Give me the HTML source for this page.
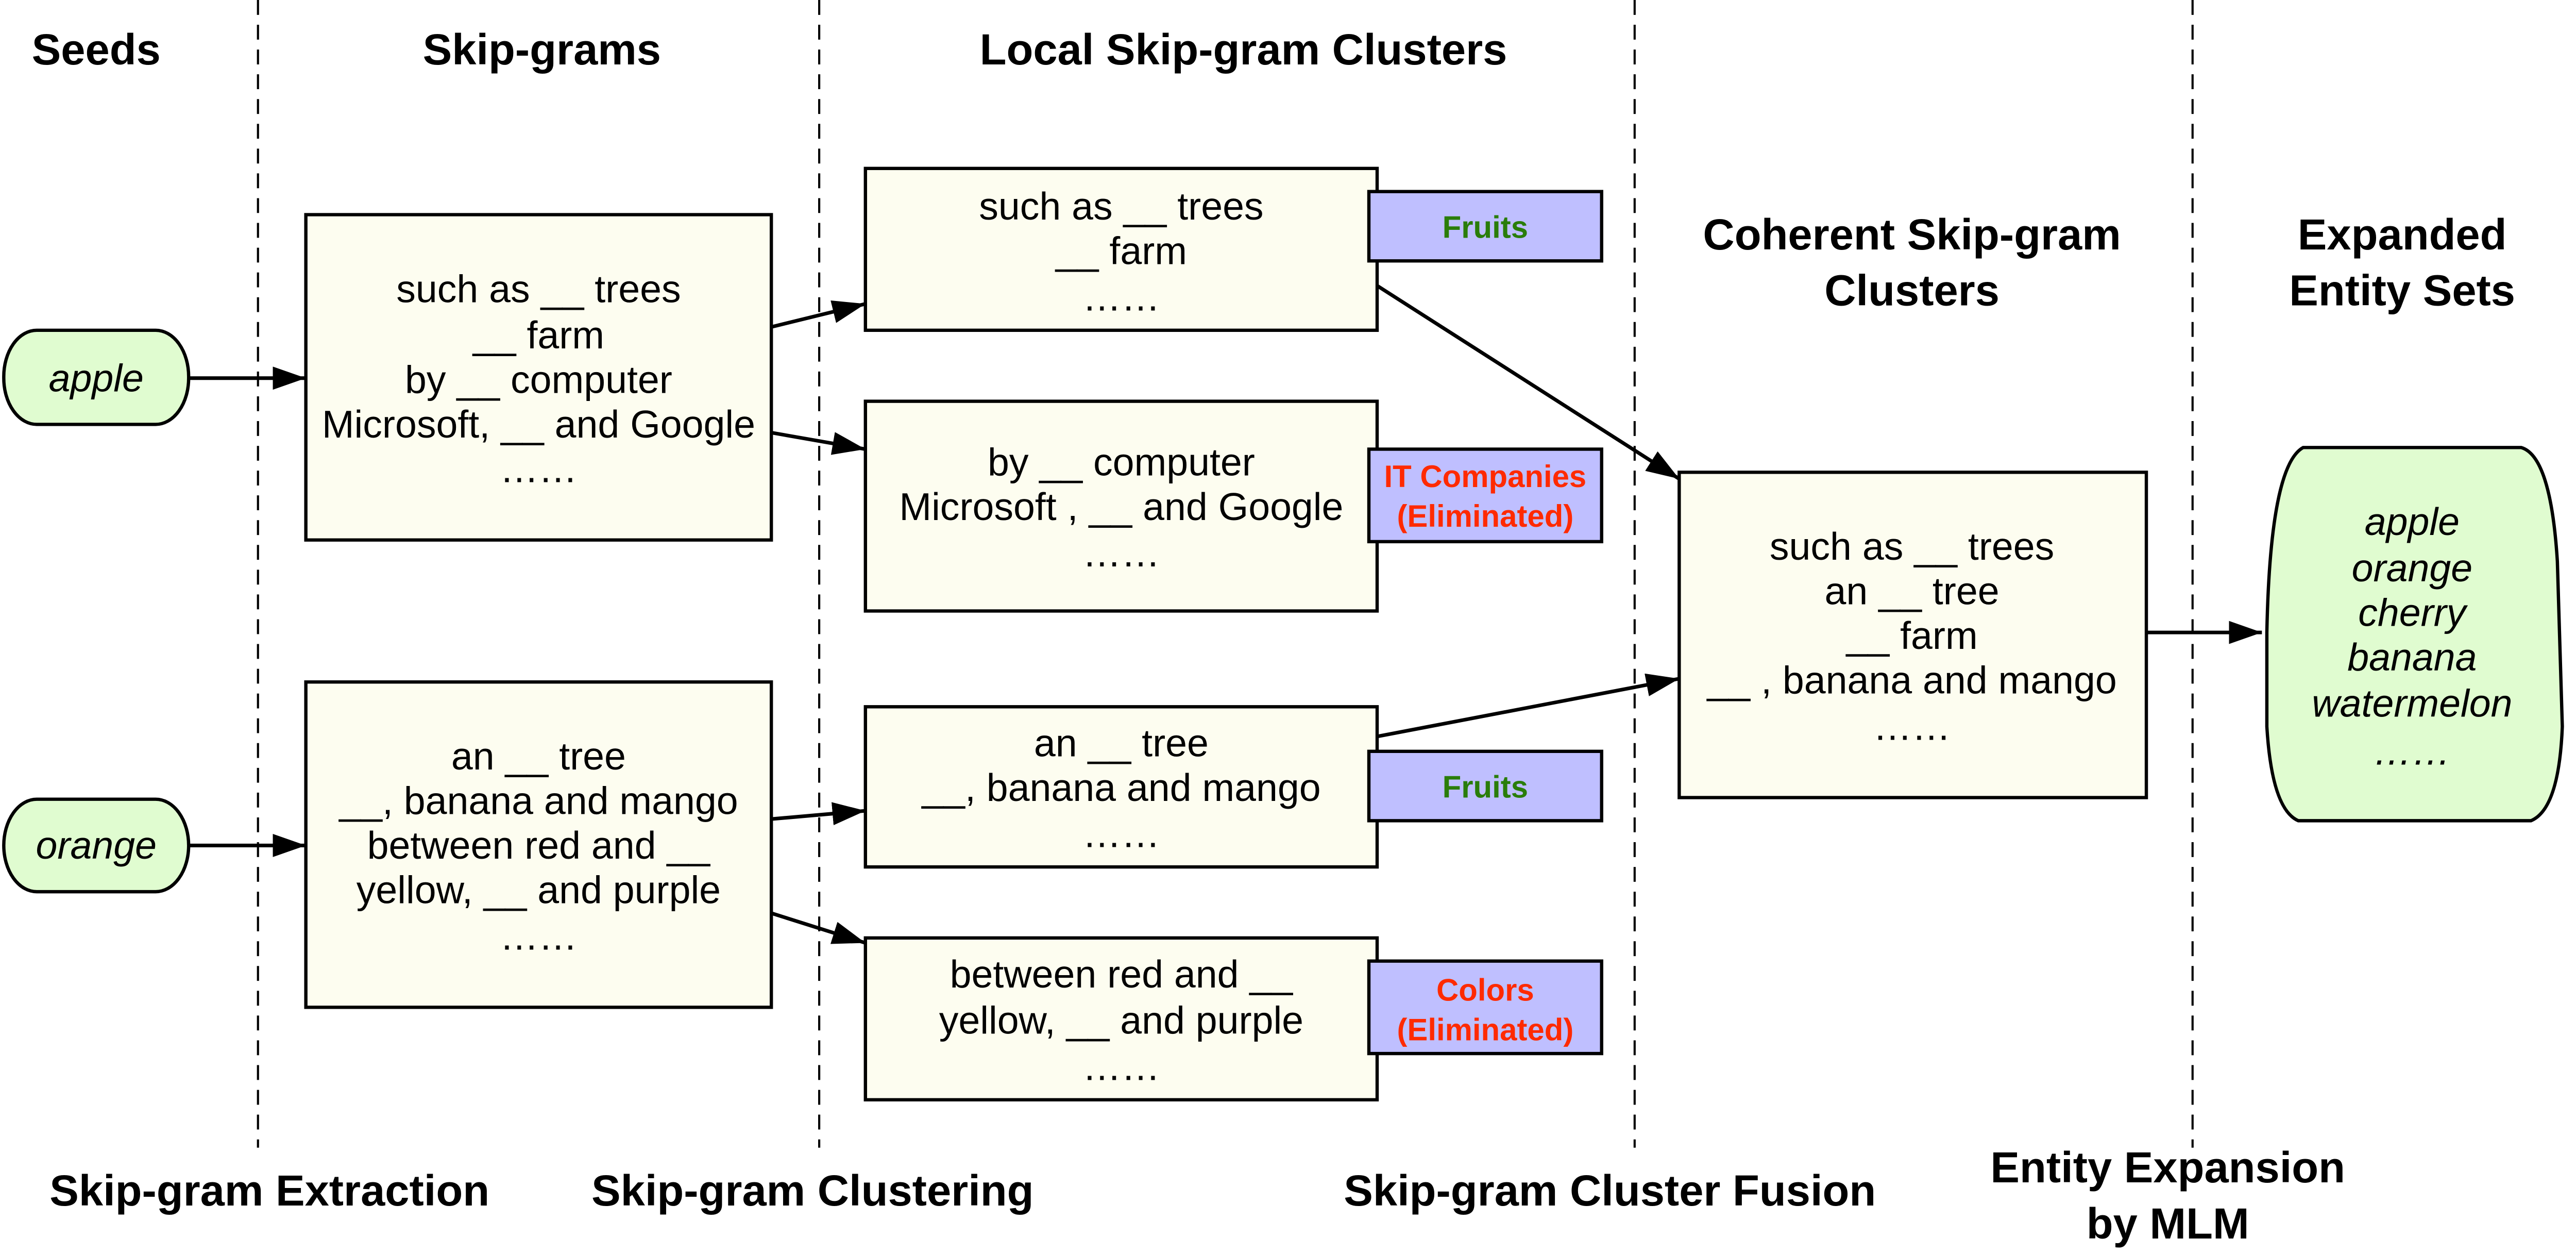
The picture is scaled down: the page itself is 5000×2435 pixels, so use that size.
<!DOCTYPE html>
<html><head><meta charset="utf-8"><style>
html,body{margin:0;padding:0;background:#fff;}
svg{display:block;}
text{font-family:"Liberation Sans",Arial,sans-serif;}
</style></head><body>
<svg width="5000" height="2435" viewBox="0 0 1560 760" xmlns="http://www.w3.org/2000/svg">
<defs>
<marker id="a2" viewBox="0 0 20 14" markerWidth="20" markerHeight="14" refX="20" refY="7" orient="auto" markerUnits="userSpaceOnUse">
<path d="M0,0 L20,7 L0,14 Z" fill="#000"/>
</marker>
</defs>
<rect width="1560" height="760" fill="#fff"/>
<g stroke="#000" stroke-width="1.3" stroke-dasharray="9,6">
<line x1="156" y1="0" x2="156" y2="695"/>
<line x1="496" y1="0" x2="496" y2="695"/>
<line x1="990" y1="0" x2="990" y2="695"/>
<line x1="1328" y1="0" x2="1328" y2="695"/>
</g>
<g font-weight="bold" font-size="26.5" text-anchor="middle" fill="#000">
<text x="58" y="39">Seeds</text>
<text x="328" y="39">Skip-grams</text>
<text x="753" y="39">Local Skip-gram Clusters</text>
<text x="1158" y="151">Coherent Skip-gram</text>
<text x="1158" y="185">Clusters</text>
<text x="1455" y="151">Expanded</text>
<text x="1455" y="185">Entity Sets</text>
<text x="163" y="730">Skip-gram Extraction</text>
<text x="492" y="730">Skip-gram Clustering</text>
<text x="975" y="730">Skip-gram Cluster Fusion</text>
<text x="1313" y="716">Entity Expansion</text>
<text x="1313" y="750">by MLM</text>
</g>
<g stroke="#000" stroke-width="2" fill="#e0fcd0">
<rect x="2" y="200" width="112" height="57" rx="20" ry="28"/>
<rect x="2" y="484" width="112" height="56" rx="20" ry="28"/>
</g>
<g font-size="23.5" font-style="italic" text-anchor="middle">
<text x="58" y="237">apple</text>
<text x="58" y="520">orange</text>
</g>
<g stroke="#000" stroke-width="2" fill="#fdfdf0">
<rect x="185" y="130" width="282" height="197"/>
<rect x="185" y="413" width="282" height="197"/>
<rect x="524" y="102" width="310" height="98"/>
<rect x="524" y="243" width="310" height="127"/>
<rect x="524" y="428" width="310" height="97"/>
<rect x="524" y="568" width="310" height="98"/>
<rect x="1017" y="286" width="283" height="197"/>
</g>
<path d="M1395,271 L1527,271 Q1545,276 1549,340 L1552,440 Q1550,490 1533,497 L1392,497 Q1376,490 1373,440 L1373,383 Q1375,282 1395,271 Z" fill="#e0fcd0" stroke="#000" stroke-width="2"/>
<g stroke="#000" stroke-width="2" fill="#bfbfff">
<rect x="829" y="116" width="141" height="42"/>
<rect x="829" y="272" width="141" height="56"/>
<rect x="829" y="455" width="141" height="42"/>
<rect x="829" y="582" width="141" height="56"/>
</g>
<g font-size="18.7" font-weight="bold" text-anchor="middle">
<text x="899.5" y="144" fill="#2a7d0a">Fruits</text>
<text x="899.5" y="295" fill="#ff2a00">IT Companies</text>
<text x="899.5" y="319" fill="#ff2a00">(Eliminated)</text>
<text x="899.5" y="483" fill="#2a7d0a">Fruits</text>
<text x="899.5" y="606" fill="#ff2a00">Colors</text>
<text x="899.5" y="630" fill="#ff2a00">(Eliminated)</text>
</g>
<g font-size="23.5" text-anchor="middle" fill="#000">
<text x="326" y="183">such as __ trees</text>
<text x="326" y="211">__ farm</text>
<text x="326" y="238">by __ computer</text>
<text x="326" y="265">Microsoft, __ and Google</text>
<text x="326" y="292">……</text>
<text x="326" y="466">an __ tree</text>
<text x="326" y="493">__, banana and mango</text>
<text x="326" y="520">between red and __</text>
<text x="326" y="547">yellow, __ and purple</text>
<text x="326" y="575">……</text>
<text x="679" y="133">such as __ trees</text>
<text x="679" y="160">__ farm</text>
<text x="679" y="188">……</text>
<text x="679" y="288">by __ computer</text>
<text x="679" y="315">Microsoft , __ and Google</text>
<text x="679" y="343">……</text>
<text x="679" y="458">an __ tree</text>
<text x="679" y="485">__, banana and mango</text>
<text x="679" y="513">……</text>
<text x="679" y="598">between red and __</text>
<text x="679" y="626">yellow, __ and purple</text>
<text x="679" y="654">……</text>
<text x="1158" y="339">such as __ trees</text>
<text x="1158" y="366">an __ tree</text>
<text x="1158" y="393">__ farm</text>
<text x="1158" y="420">__ , banana and mango</text>
<text x="1158" y="448">……</text>
</g>
<g font-size="23.5" font-style="italic" text-anchor="middle">
<text x="1461" y="324">apple</text>
<text x="1461" y="352">orange</text>
<text x="1461" y="379">cherry</text>
<text x="1461" y="406">banana</text>
<text x="1461" y="434">watermelon</text>
<text x="1461" y="463">……</text>
</g>
<g stroke="#000" stroke-width="2.2" fill="none" marker-end="url(#a2)">
<line x1="114" y1="229" x2="185" y2="229"/>
<line x1="114" y1="512" x2="185" y2="512"/>
<line x1="467" y1="198" x2="524" y2="184"/>
<line x1="467" y1="262" x2="524" y2="272"/>
<line x1="467" y1="496" x2="524" y2="491"/>
<line x1="467" y1="553" x2="524" y2="571"/>
<line x1="834" y1="173" x2="1017" y2="290"/>
<line x1="834" y1="446" x2="1017" y2="411"/>
<line x1="1300" y1="383" x2="1370" y2="383"/>
</g>
</svg>
</body></html>
